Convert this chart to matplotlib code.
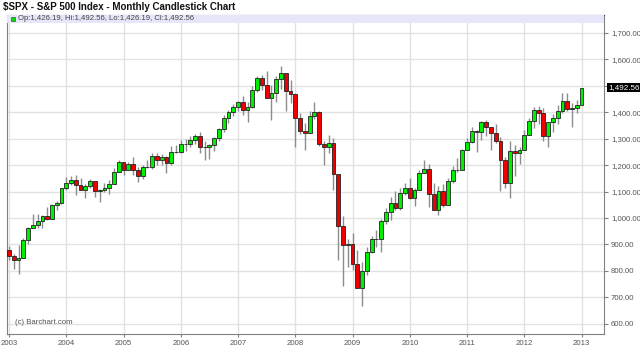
import matplotlib.pyplot as plt
import numpy as np
from matplotlib.ticker import FuncFormatter

plt.rcParams["font.family"] = ["Liberation Sans", "DejaVu Sans"]

# Monthly OHLC, Jan 2003 .. Jan 2013 (open = previous month's close)
prev_close = 879.82
closes = [
    855.70, 841.15, 848.18, 916.92, 963.59, 974.50, 990.31, 1008.01, 995.97, 1050.71, 1058.20, 1111.92,
    1131.13, 1144.94, 1126.21, 1107.30, 1120.68, 1140.84, 1101.72, 1104.24, 1114.58, 1130.20, 1173.82, 1211.92,
    1181.27, 1203.60, 1180.59, 1156.85, 1191.50, 1191.33, 1234.18, 1220.33, 1228.81, 1207.01, 1249.48, 1248.29,
    1280.08, 1280.66, 1294.83, 1310.61, 1270.09, 1270.20, 1276.66, 1303.82, 1335.85, 1377.94, 1400.63, 1418.30,
    1438.24, 1406.82, 1420.86, 1482.37, 1530.62, 1503.35, 1455.27, 1473.99, 1526.75, 1549.38, 1481.14, 1468.36,
    1378.55, 1330.63, 1322.70, 1385.59, 1400.38, 1280.00, 1267.38, 1282.83, 1166.36, 968.75, 896.24, 903.25,
    825.88, 735.09, 797.87, 872.81, 919.14, 919.32, 987.48, 1020.62, 1057.08, 1036.19, 1095.63, 1115.10,
    1073.87, 1104.49, 1169.43, 1186.69, 1089.41, 1030.71, 1101.60, 1049.33, 1141.20, 1183.26, 1180.55, 1257.64,
    1286.12, 1327.22, 1325.83, 1363.61, 1345.20, 1320.64, 1292.28, 1218.89, 1131.42, 1253.30, 1246.96, 1257.60,
    1312.41, 1365.68, 1408.47, 1397.91, 1310.33, 1362.16, 1379.32, 1406.58, 1440.67, 1412.16, 1416.18, 1426.19,
    1492.56,
]
highs = [
    893.00, 864.64, 895.90, 924.24, 965.38, 1015.33, 1015.41, 1011.01, 1040.29, 1053.79, 1063.65, 1112.56,
    1155.38, 1158.98, 1163.23, 1150.57, 1127.74, 1146.18, 1140.84, 1108.36, 1131.54, 1142.05, 1188.46, 1217.90,
    1211.92, 1212.44, 1229.11, 1191.88, 1199.56, 1219.59, 1245.15, 1245.86, 1243.13, 1233.34, 1270.64, 1275.80,
    1294.90, 1297.57, 1310.88, 1318.16, 1326.70, 1290.68, 1280.42, 1307.11, 1340.28, 1389.45, 1407.89, 1431.81,
    1441.61, 1461.57, 1438.89, 1498.02, 1535.56, 1540.56, 1555.90, 1503.89, 1538.74, 1576.09, 1545.79, 1523.57,
    1471.77, 1396.02, 1359.68, 1404.57, 1440.24, 1404.05, 1292.17, 1313.15, 1303.04, 1167.03, 1007.51, 918.85,
    943.85, 877.86, 832.98, 888.70, 930.17, 956.23, 996.68, 1039.47, 1080.15, 1101.36, 1113.69, 1130.38,
    1150.45, 1112.42, 1180.69, 1219.80, 1205.13, 1131.23, 1120.95, 1129.24, 1150.00, 1196.14, 1227.08, 1262.60,
    1302.67, 1344.07, 1332.28, 1366.24, 1370.58, 1345.20, 1356.48, 1307.38, 1229.29, 1292.66, 1277.55, 1269.37,
    1333.47, 1378.04, 1419.15, 1422.38, 1415.32, 1363.46, 1391.74, 1426.68, 1474.51, 1470.96, 1434.27, 1448.00,
    1492.56,
]
lows = [
    842.00, 806.29, 788.90, 847.85, 902.83, 963.59, 962.10, 960.84, 990.36, 995.97, 1031.20, 1053.41,
    1105.08, 1124.44, 1087.16, 1105.98, 1076.32, 1113.32, 1078.78, 1060.72, 1099.18, 1090.19, 1127.60, 1173.37,
    1163.75, 1180.95, 1163.69, 1136.15, 1146.18, 1188.30, 1183.55, 1201.07, 1201.07, 1168.20, 1201.07, 1246.59,
    1245.74, 1253.61, 1268.42, 1280.74, 1245.34, 1219.29, 1224.54, 1253.86, 1290.93, 1327.10, 1360.98, 1385.93,
    1403.97, 1389.42, 1363.98, 1416.37, 1476.70, 1484.18, 1454.25, 1370.60, 1439.29, 1489.56, 1406.10, 1435.65,
    1270.05, 1316.75, 1256.98, 1324.35, 1373.07, 1272.00, 1200.44, 1247.45, 1106.39, 839.80, 741.02, 815.69,
    804.30, 734.52, 666.79, 783.32, 866.10, 888.86, 869.32, 978.51, 991.97, 1029.38, 1029.38, 1085.89,
    1071.59, 1044.50, 1105.24, 1170.69, 1040.78, 1028.33, 1010.91, 1039.70, 1047.87, 1131.87, 1173.00, 1186.60,
    1262.29, 1282.86, 1249.05, 1294.70, 1311.80, 1258.07, 1282.86, 1101.54, 1114.22, 1074.77, 1158.66, 1202.37,
    1258.86, 1312.41, 1340.03, 1357.38, 1291.98, 1266.74, 1325.41, 1354.65, 1396.56, 1403.28, 1343.35, 1398.11,
    1426.19,
]
opens = [prev_close] + closes[:-1]

years = list(range(2003, 2014))
price_ticks = list(range(600, 1800, 100))
last_label = "1,492.56"
legend_text = "Op:1,426.19, Hi:1,492.56, Lo:1,426.19, Cl:1,492.56"

months = np.arange(len(closes))
opens = np.array(opens)
closes = np.array(closes)
up = closes >= opens


def price_fmt(v, pos):
    # the 1,500 label sits under the last-price box
    if abs(v - 1500) < 1:
        return ""
    return f"{v:,.2f}"


fig = plt.figure(figsize=(6.4, 3.63), dpi=100)
ax = fig.add_axes([0.0114, 0.080, 0.9323, 0.8787])

# wicks
ax.vlines(months, lows, highs, color="#8c8c8c", lw=1, zorder=2)
# bodies
colors = np.where(up, "#00ee00", "#ee0000")
ax.bar(months, closes - opens, bottom=opens, width=0.8, color=colors,
       edgecolor="#222222", linewidth=0.6, zorder=3)

ax.set_xlim(-0.36, 124.7)
ax.set_ylim(561, 1768)

ax.set_xticks([(y - 2003) * 12 for y in years])
ax.set_xticklabels([str(y) for y in years])
ax.set_yticks(price_ticks)
ax.yaxis.set_major_formatter(FuncFormatter(price_fmt))
ax.yaxis.tick_right()
ax.tick_params(axis="y", length=3, width=0.8, color="#808080",
               labelsize=5.6, labelcolor="#555555", pad=2)
ax.tick_params(axis="x", length=2, width=0.8, color="#808080",
               labelsize=5.6, labelcolor="#555555", pad=2)
ax.grid(True, color="#e2e2e2", lw=1, zorder=0)
ax.set_axisbelow(True)
for side in ["left", "bottom", "right"]:
    ax.spines[side].set_color("#808080")
ax.spines["top"].set_color("#404040")

# legend band across the top
band = plt.Rectangle((0, 0.975), 1, 0.025, transform=ax.transAxes,
                     facecolor="#e6e6fa", edgecolor="none", zorder=4)
ax.add_patch(band)
ax.add_patch(plt.Rectangle((0.007, 0.980), 0.006, 0.015, transform=ax.transAxes,
                           facecolor="#00dd00", edgecolor="#333333", lw=0.4, zorder=5))
ax.text(0.018, 0.988, legend_text, transform=ax.transAxes, fontsize=5.6,
        color="#444444", va="center", ha="left", zorder=5)

# last price marker
ax.annotate(last_label, xy=(1.0, closes[-1]), xycoords=("axes fraction", "data"),
            xytext=(3, 0), textcoords="offset points", fontsize=5.8, color="white",
            va="center", ha="left",
            bbox=dict(boxstyle="square,pad=0.12", fc="black", ec="none"),
            annotation_clip=False)

ax.text(0.013, 0.035, "(c) Barchart.com", transform=ax.transAxes, fontsize=5.6,
        color="#555555", va="center", ha="left")

fig.text(0.004, 0.981, "$SPX - S&P 500 Index - Monthly Candlestick Chart",
         fontsize=7.0, fontweight="bold", color="#111111", va="center", ha="left")

fig.savefig("out.png", dpi=100)
